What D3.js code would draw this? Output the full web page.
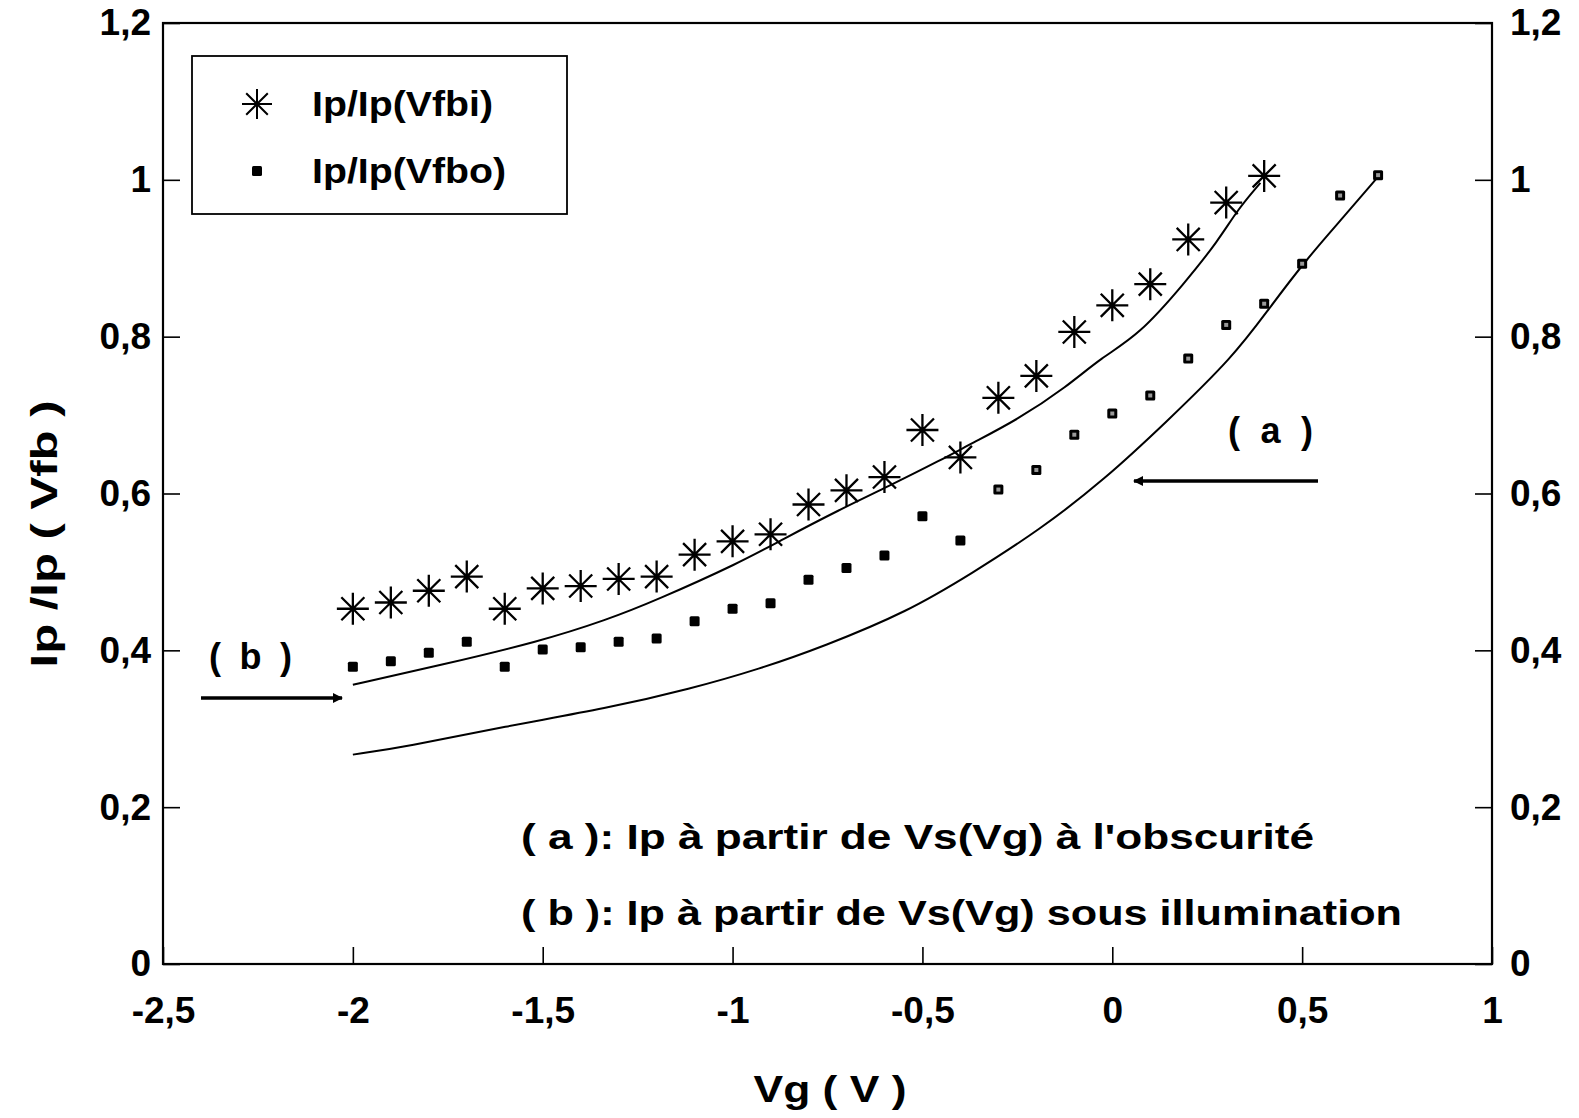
<!DOCTYPE html>
<html>
<head>
<meta charset="utf-8">
<script src="https://cdn.jsdelivr.net/npm/d3@7"></script>
<style>
  html, body { margin: 0; padding: 0; background: #fff; }
  svg { display: block; }
  text { font-family: "Liberation Sans", Arial, Helvetica, sans-serif; font-weight: bold; fill: #000; }
</style>
</head>
<body>
<svg id="chart" width="1579" height="1118"></svg>
<script>
// ---- data ----
const vgPoints = [-2.0,-1.9,-1.8,-1.7,-1.6,-1.5,-1.4,-1.3,-1.2,-1.1,-1.0,-0.9,-0.8,-0.7,-0.6,-0.5,-0.4,-0.3,-0.2,-0.1,0.0,0.1,0.2,0.3,0.4,0.5,0.6,0.7];
const ratioVfbi = [0.453,0.461,0.476,0.494,0.453,0.479,0.482,0.491,0.494,0.522,0.539,0.548,0.586,0.604,0.621,0.681,0.646,0.722,0.750,0.806,0.840,0.867,0.924,0.971,1.005];
const ratioVfbo = [0.379,0.386,0.397,0.411,0.379,0.401,0.404,0.411,0.415,0.437,0.453,0.460,0.490,0.505,0.521,0.571,0.540,0.605,0.630,0.675,0.702,0.725,0.772,0.815,0.842,0.893,0.980,1.006];

// curve (a): Ip from Vs(Vg) in the dark
const curveAx = [-2.0,-1.86,-1.6,-1.33,-1.11,-0.93,-0.76,-0.54,-0.37,-0.19,-0.02,0.14,0.32,0.41,0.51,0.61,0.70];
const curveAy = [0.267,0.277,0.303,0.326,0.351,0.376,0.405,0.449,0.498,0.554,0.618,0.690,0.775,0.834,0.898,0.953,1.004];
// curve (b): Ip from Vs(Vg) under illumination
const curveBx = [-2.0,-1.77,-1.51,-1.33,-1.2,-0.98,-0.87,-0.72,-0.59,-0.45,-0.37,-0.25,-0.12,-0.03,0.07,0.19,0.28,0.33,0.39];
const curveBy = [0.356,0.381,0.411,0.439,0.464,0.512,0.541,0.579,0.609,0.643,0.664,0.694,0.736,0.773,0.802,0.868,0.923,0.962,0.996];

const xTicks = [-2.5,-2,-1.5,-1,-0.5,0,0.5,1];
const yTicks = [0,0.2,0.4,0.6,0.8,1,1.2];
const xTitle = "Vg ( V )";
const yTitle = "Ip /Ip ( Vfb )";
const legendLabels = ["Ip/Ip(Vfbi)", "Ip/Ip(Vfbo)"];
const noteA = "( a ): Ip à partir de Vs(Vg) à l'obscurité";
const noteB = "( b ): Ip à partir de Vs(Vg) sous illumination";

// ---- drawing ----
const svg = d3.select("#chart");
const L = 163, R = 1492, T = 23, B = 964;
const x = d3.scaleLinear().domain([-2.5, 1]).range([L, R]);
const y = d3.scaleLinear().domain([0, 1.2]).range([B, T]);
const fmt = v => String(v).replace(".", ",");

svg.append("defs").append("marker")
  .attr("id", "ah").attr("viewBox", "0 0 10 10").attr("refX", 9).attr("refY", 5)
  .attr("markerWidth", 16).attr("markerHeight", 10).attr("markerUnits", "userSpaceOnUse")
  .attr("orient", "auto")
  .append("path").attr("d", "M0,0 L10,5 L0,10 Z").attr("fill", "#000");

// frame
svg.append("rect").attr("x", L).attr("y", T).attr("width", R - L).attr("height", B - T)
  .attr("fill", "none").attr("stroke", "#000").attr("stroke-width", 2.2);

function styleAxis(g) {
  g.select(".domain").remove();
  g.selectAll(".tick line").attr("stroke", "#000").attr("stroke-width", 1.6);
  g.selectAll(".tick text").attr("font-size", 37).attr("fill", "#000")
    .attr("font-family", '"Liberation Sans", Arial, sans-serif').attr("font-weight", "bold");
}

svg.append("g").attr("transform", `translate(${L},0)`)
  .call(d3.axisLeft(y).tickValues(yTicks).tickFormat(fmt).tickSize(-17).tickPadding(12))
  .call(styleAxis);
svg.append("g").attr("transform", `translate(${R},0)`)
  .call(d3.axisRight(y).tickValues(yTicks).tickFormat(fmt).tickSize(-17).tickPadding(18))
  .call(styleAxis);
svg.append("g").attr("transform", `translate(0,${B})`)
  .call(d3.axisBottom(x).tickValues(xTicks).tickFormat(fmt).tickSize(-17).tickPadding(33))
  .call(styleAxis);

// curves
const line = d3.line().x(d => x(d[0])).y(d => y(d[1])).curve(d3.curveBasis);
svg.append("path").datum(d3.zip(curveAx, curveAy)).attr("d", line)
  .attr("fill", "none").attr("stroke", "#000").attr("stroke-width", 2);
svg.append("path").datum(d3.zip(curveBx, curveBy)).attr("d", line)
  .attr("fill", "none").attr("stroke", "#000").attr("stroke-width", 2);

// asterisk markers
function asteriskPath(r) {
  const d = r * 0.72;
  return `M${-r},0L${r},0M0,${-r}L0,${r}M${-d},${-d}L${d},${d}M${-d},${d}L${d},${-d}`;
}
svg.append("g").selectAll("path").data(d3.zip(vgPoints.slice(0, ratioVfbi.length), ratioVfbi))
  .join("path")
  .attr("transform", d => `translate(${x(d[0])},${y(d[1])})`)
  .attr("d", asteriskPath(16))
  .attr("fill", "none").attr("stroke", "#000").attr("stroke-width", 2.3);

// square markers
const sq = svg.append("g").selectAll("g").data(d3.zip(vgPoints, ratioVfbo)).join("g")
  .attr("transform", d => `translate(${x(d[0])},${y(d[1])})`);
sq.append("rect").attr("x", -5).attr("y", -5).attr("width", 10).attr("height", 10).attr("rx", 1.5)
  .attr("fill", "#000");
sq.filter(d => d[0] > -0.35).append("rect").attr("x", -2).attr("y", -2)
  .attr("width", 4).attr("height", 4).attr("fill", "#999");

// legend
svg.append("rect").attr("x", 192).attr("y", 56).attr("width", 375).attr("height", 158)
  .attr("fill", "#fff").attr("stroke", "#000").attr("stroke-width", 1.8);
svg.append("path").attr("transform", "translate(257,104)").attr("d", asteriskPath(15))
  .attr("fill", "none").attr("stroke", "#000").attr("stroke-width", 2);
svg.append("rect").attr("x", 252).attr("y", 166).attr("width", 10).attr("height", 10).attr("rx", 1.5).attr("fill", "#000");
svg.append("text").attr("x", 312).attr("y", 116).attr("font-size", 35)
  .attr("textLength", 181).attr("lengthAdjust", "spacingAndGlyphs").text(legendLabels[0]);
svg.append("text").attr("x", 312).attr("y", 183).attr("font-size", 35)
  .attr("textLength", 194).attr("lengthAdjust", "spacingAndGlyphs").text(legendLabels[1]);

// annotations
svg.append("text").attr("x", 1228).attr("y", 443).attr("font-size", 36)
  .attr("textLength", 85).attr("lengthAdjust", "spacing").text("( a )");
svg.append("line").attr("x1", 1318).attr("y1", 481).attr("x2", 1134).attr("y2", 481)
  .attr("stroke", "#000").attr("stroke-width", 3.6).attr("marker-end", "url(#ah)");
svg.append("text").attr("x", 209).attr("y", 669).attr("font-size", 36)
  .attr("textLength", 83).attr("lengthAdjust", "spacing").text("( b )");
svg.append("line").attr("x1", 201).attr("y1", 698).attr("x2", 342).attr("y2", 698)
  .attr("stroke", "#000").attr("stroke-width", 3.6).attr("marker-end", "url(#ah)");

svg.append("text").attr("x", 521).attr("y", 849).attr("font-size", 35)
  .attr("textLength", 793).attr("lengthAdjust", "spacingAndGlyphs").text(noteA);
svg.append("text").attr("x", 521).attr("y", 925).attr("font-size", 35)
  .attr("textLength", 881).attr("lengthAdjust", "spacingAndGlyphs").text(noteB);

// axis titles
svg.append("text").attr("x", 830).attr("y", 1102).attr("text-anchor", "middle").attr("font-size", 36)
  .attr("textLength", 153).attr("lengthAdjust", "spacingAndGlyphs").text(xTitle);
svg.append("text").attr("transform", "translate(57,534) rotate(-90)").attr("text-anchor", "middle")
  .attr("font-size", 36).attr("textLength", 267).attr("lengthAdjust", "spacingAndGlyphs").text(yTitle);
</script>
</body>
</html>
